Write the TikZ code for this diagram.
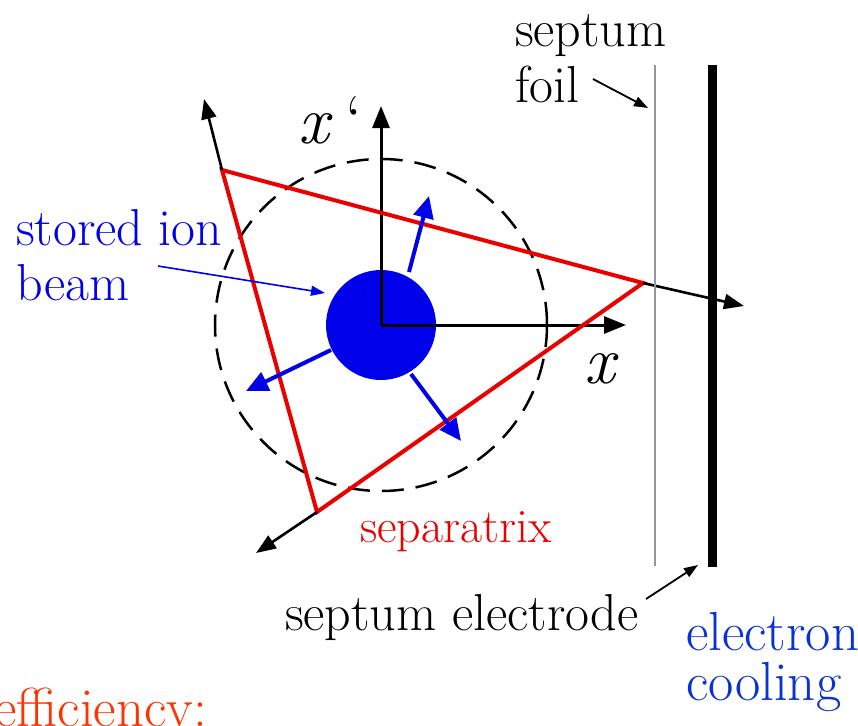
\documentclass[tikz,border=0pt]{standalone}
\usetikzlibrary{arrows.meta}
\definecolor{beamblue}{RGB}{0,0,235}
\definecolor{coolblue}{RGB}{10,50,210}
\definecolor{sepred}{RGB}{235,0,0}
\definecolor{effred}{RGB}{255,51,0}
\definecolor{foilgray}{RGB}{150,150,150}
\tikzset{
  lbl/.style={inner sep=0pt, anchor=base west, font=\fontsize{52}{56}\selectfont},
  axlbl/.style={inner sep=0pt, anchor=base west, font=\fontsize{68}{72}\selectfont\itshape},
  axis/.style={line width=3pt, -{Triangle[length=22pt,width=17pt]}},
  outarr/.style={line width=2.6pt, -{Triangle[length=20pt,width=15pt]}},
  bluearr/.style={line width=4pt, draw=beamblue, -{Triangle[length=22pt,width=20pt]}},
  thinarr/.style={line width=1.8pt, -{Triangle[length=14pt,width=10pt]}},
  sepline/.style={line width=4pt, draw=sepred, line join=miter},
}
\begin{document}
\begin{tikzpicture}[x=1pt,y=-1pt]
\useasboundingbox (0,0) rectangle (858,725);
\clip (0,0) rectangle (858,725);

% centre and axes
\coordinate (O) at (381,325);
\coordinate (xtip) at (626,325);
\coordinate (ytip) at (381,106);
% dashed circle
\draw[line width=2.5pt, dash pattern=on 22pt off 12pt] (O) circle[radius=166];

% ion beam
\node[circle, fill=beamblue, minimum size=110pt, inner sep=0pt] (beam) at (O) {};

\draw[axis] (O) -- (xtip);
\draw[axis] (O) -- (ytip);

% separatrix triangle
\coordinate (A) at (222,170);
\coordinate (B) at (643,283);
\coordinate (C) at (317,512);
\draw[sepline] (A) -- (B) -- (C) -- cycle;

% outgoing arms
\coordinate (Aout) at (204,99);
\coordinate (Bout) at (744,306);
\coordinate (Cout) at (256,553);
\draw[outarr] (A) -- (Aout);
\draw[outarr] (B) -- (Bout);
\draw[outarr] (C) -- (Cout);

% blue arrows
\coordinate (b1s) at (409,272);
\coordinate (b1e) at (429,196);
\coordinate (b2s) at (331,350);
\coordinate (b2e) at (246,391);
\coordinate (b3s) at (411,374);
\coordinate (b3e) at (461,441);
\draw[bluearr] (b1s) -- (b1e);
\draw[bluearr] (b2s) -- (b2e);
\draw[bluearr] (b3s) -- (b3e);

% septum foil and electrode
\coordinate (foilT) at (655,65);
\coordinate (foilB) at (655,566);
\coordinate (elT) at (712,65);
\coordinate (elB) at (712,567);
\draw[line width=1.2pt, foilgray] (foilT) -- (foilB);
\draw[line width=9pt] (elT) -- (elB);

% labels
\node[axlbl] (xl) at (584,383) {x};
\node[axlbl] (xpl) at (298,143) {x\hspace{17pt}\upshape\textquoteleft};

\node[lbl] (sept) at (515,46) {septum};
\node[lbl] (foil) at (515,102) {foil};
\coordinate (foilarr) at (648,108);
\coordinate (foilst) at (593,79);
\draw[thinarr] (foilst) -- (foilarr);

\node[lbl, text=beamblue] (stored) at (16,245) {stored ion};
\node[lbl, text=beamblue] (beamlbl) at (16,300) {beam};
\coordinate (beamarr) at (325,293);
\coordinate (beamst) at (158,266);
\draw[line width=1.6pt, beamblue, -{Triangle[length=14pt,width=10pt]}] (beamst) -- (beamarr);

\node[lbl, text=sepred, font=\fontsize{48}{52}\selectfont] (sepx) at (360,542) {separatrix};

\node[lbl] (septel) at (285,630) {septum electrode};
\coordinate (elarr) at (698,565);
\coordinate (elst) at (646,599);
\draw[thinarr] (elst) -- (elarr);

\node[lbl, text=coolblue, font=\fontsize{55}{59}\selectfont] (elec) at (686,650) {electron};
\node[lbl, text=coolblue, font=\fontsize{55}{59}\selectfont] (cool) at (686,700) {cooling};

\node[lbl, text=effred, font=\fontsize{55}{59}\selectfont] (eff) at (-6,726) {efficiency:};
\end{tikzpicture}
\end{document}
